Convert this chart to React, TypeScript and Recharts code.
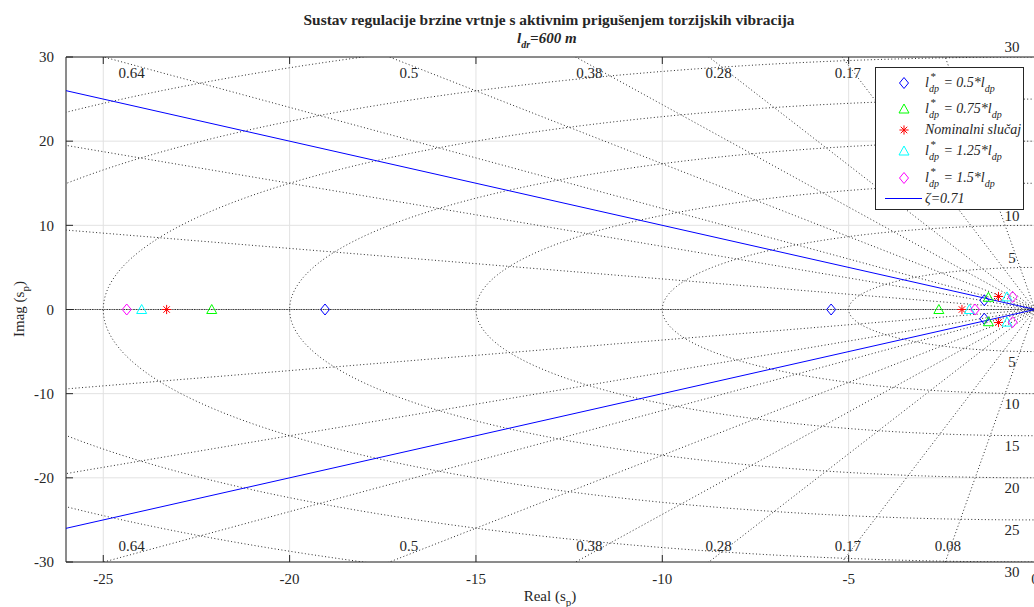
import React from 'react';
import { ComposedChart, XAxis, YAxis, CartesianGrid, Scatter, ReferenceDot } from 'recharts';

const FONT = '"Liberation Serif", "Times New Roman", serif';
const INK = '#262626';
const DOT = '#2a2a2a';

const xTicks = [-25, -20, -15, -10, -5, 0];
const yTicks = [-30, -20, -10, 0, 10, 20, 30];

const polesHalf = [
  { x: -19.05, y: 0 }, { x: -5.47, y: 0 }, { x: -1.36, y: 1.1 }, { x: -1.36, y: -1.1 },
];
const polesThreeQuarter = [
  { x: -22.09, y: 0 }, { x: -2.58, y: 0 }, { x: -1.25, y: 1.45 }, { x: -1.25, y: -1.45 },
];
const polesNominal = [
  { x: -23.3, y: 0 }, { x: -1.96, y: 0 }, { x: -0.98, y: 1.55 }, { x: -0.98, y: -1.55 },
];
const polesOneQuarter = [
  { x: -23.97, y: 0 }, { x: -1.76, y: 0 }, { x: -0.75, y: 1.5 }, { x: -0.75, y: -1.5 },
];
const polesOneHalf = [
  { x: -24.37, y: 0 }, { x: -1.61, y: 0 }, { x: -0.6, y: 1.5 }, { x: -0.6, y: -1.5 },
];
const zetaUpper = [{ x: -26, y: 26 }, { x: 0, y: 0 }];
const zetaLower = [{ x: -26, y: -26 }, { x: 0, y: 0 }];

// s-plane grid
const dampingRatios = [0.08, 0.17, 0.28, 0.38, 0.5, 0.64, 0.8, 0.94, 1];
// labels visible in the reference (the rest sit behind the legend)
const dampingLabelsTop = ['0.17', '0.28', '0.38', '0.5', '0.64'];
const dampingLabelsBottom = ['0.08', '0.17', '0.28', '0.38', '0.5', '0.64'];
const naturalFreqs = [5, 10, 15, 20, 25, 30, 35];
const naturalFreqLabelsTop = [5, 10, 30];
const naturalFreqLabelsBottom = [5, 10, 15, 20, 25, 30];

const RAY = 80;
const dampingLines = dampingRatios.map((z) => {
  const s = Math.sqrt(1 - z * z);
  return [
    { x: -RAY * z, y: RAY * s },
    { x: 0, y: 0 },
    { x: -RAY * z, y: -RAY * s },
  ];
});
const circles = naturalFreqs.map((w) => {
  const pts: { x: number; y: number }[] = [];
  for (let d = 90; d <= 270; d += 1) {
    const t = (d * Math.PI) / 180;
    pts.push({ x: w * Math.cos(t), y: w * Math.sin(t) });
  }
  return pts;
});
const labelX = (lab: string) => {
  const z = parseFloat(lab);
  return (-29.1 * z) / Math.sqrt(1 - z * z);
};

const noShape = () => <g />;
const dottedLine = { stroke: DOT, strokeWidth: 1, strokeDasharray: '1 2.4' };

const diamond = (color: string) => (p: any) => {
  const { cx, cy } = p;
  return (
    <path
      d={`M${cx},${cy - 5.5} L${cx + 4.5},${cy} L${cx},${cy + 5.5} L${cx - 4.5},${cy} Z`}
      fill="none"
      stroke={color}
      strokeWidth={1}
    />
  );
};
const triangle = (color: string) => (p: any) => {
  const { cx, cy } = p;
  return (
    <path
      d={`M${cx},${cy - 5} L${cx + 5},${cy + 4} L${cx - 5},${cy + 4} Z`}
      fill="none"
      stroke={color}
      strokeWidth={1}
    />
  );
};
const asterisk = (color: string) => (p: any) => {
  const { cx, cy } = p;
  const r = 4.6;
  const d = r * 0.7071;
  return (
    <path
      d={`M${cx - r},${cy} L${cx + r},${cy} M${cx},${cy - r} L${cx},${cy + r} M${cx - d},${cy - d} L${cx + d},${cy + d} M${cx - d},${cy + d} L${cx + d},${cy - d}`}
      fill="none"
      stroke={color}
      strokeWidth={1}
    />
  );
};

const BLUE = '#0000ff';
const GREEN = '#00ff00';
const RED = '#ff0000';
const CYAN = '#00ffff';
const MAGENTA = '#ff00ff';

const Ldp = ({ k }: { k: string }) => (
  <span style={{ whiteSpace: 'nowrap' }}>
    l
    <span style={{ position: 'relative', display: 'inline-block', width: 11, height: '1em' }}>
      <span style={{ position: 'absolute', left: 1, top: -7, fontSize: 11 }}>*</span>
      <span style={{ position: 'absolute', left: 0, top: 6, fontSize: 10 }}>dp</span>
    </span>
    {` = ${k}*l`}
    <span style={{ fontSize: 10, position: 'relative', top: 5 }}>dp</span>
  </span>
);

const MarkerIcon = ({ render }: { render: (p: any) => any }) => (
  <svg width={14} height={14} style={{ position: 'absolute', left: 21, top: 3 }}>
    {render({ cx: 7, cy: 7 })}
  </svg>
);

const legendRows = [
  { c: 14.7, icon: diamond(BLUE), label: <Ldp k="0.5" /> },
  { c: 41, icon: triangle(GREEN), label: <Ldp k="0.75" /> },
  { c: 62, icon: asterisk(RED), label: <span>Nominalni slučaj</span> },
  { c: 83, icon: triangle(CYAN), label: <Ldp k="1.25" /> },
  { c: 109.7, icon: diamond(MAGENTA), label: <Ldp k="1.5" /> },
];

const labelText = (txt: string | number, dx: number, dy: number) => (p: any) => (
  <text x={p.cx + dx} y={p.cy + dy} dy="0.35em" textAnchor="middle" fill={INK} fontSize={15} fontFamily={FONT}>
    {txt}
  </text>
);

export default function App() {
  return (
    <div
      style={{
        position: 'fixed',
        left: 0,
        top: 0,
        width: 1034,
        height: 607,
        overflow: 'hidden',
        background: '#fff',
        fontFamily: FONT,
      }}
    >
      <ComposedChart
        width={1100}
        height={607}
        margin={{ top: 27, right: 65, bottom: 0, left: 0 }}
        style={{ position: 'absolute', left: 0, top: 0 }}
      >
        <CartesianGrid stroke="#e2e2e2" strokeWidth={1} />
        <XAxis
          type="number"
          dataKey="x"
          domain={[-26, 0]}
          ticks={xTicks}
          interval={0}
          allowDataOverflow
          height={45}
          tickSize={-7}
          tickMargin={18}
          axisLine={{ stroke: INK }}
          tickLine={{ stroke: INK }}
          tick={{ fill: INK, fontSize: 15, fontFamily: FONT }}
          label={{
            content: () => (
              <text x={550} y={601} textAnchor="middle" fill={INK} fontSize={15} fontFamily={FONT}>
                Real (s<tspan dy={5} fontSize={11}>p</tspan>
                <tspan dy={-5}>)</tspan>
              </text>
            ),
          }}
        />
        <XAxis
          xAxisId="top"
          orientation="top"
          type="number"
          dataKey="x"
          domain={[-26, 0]}
          ticks={xTicks}
          interval={0}
          allowDataOverflow
          height={30}
          tickSize={-7}
          tickFormatter={() => ''}
          axisLine={{ stroke: INK }}
          tickLine={{ stroke: INK }}
        />
        <YAxis
          type="number"
          dataKey="y"
          domain={[-30, 30]}
          ticks={yTicks}
          interval={0}
          allowDataOverflow
          width={66}
          tickSize={-7}
          tickMargin={19}
          axisLine={{ stroke: INK }}
          tickLine={{ stroke: INK }}
          tick={{ fill: INK, fontSize: 15, fontFamily: FONT }}
          label={{
            content: () => (
              <text
                x={24}
                y={309}
                textAnchor="middle"
                fill={INK}
                fontSize={15}
                fontFamily={FONT}
                transform="rotate(-90 24 309)"
              >
                Imag (s<tspan dy={5} fontSize={11}>p</tspan>
                <tspan dy={-5}>)</tspan>
              </text>
            ),
          }}
        />

        {circles.map((pts, i) => (
          <Scatter
            key={'c' + i}
            data={pts}
            line={dottedLine}
            lineType="joint"
            shape={noShape}
            isAnimationActive={false}
            legendType="none"
          />
        ))}
        {dampingLines.map((pts, i) => (
          <Scatter
            key={'d' + i}
            data={pts}
            line={dottedLine}
            lineType="joint"
            shape={noShape}
            isAnimationActive={false}
            legendType="none"
          />
        ))}

        {naturalFreqLabelsTop.map((w) => (
          <ReferenceDot key={'wt' + w} x={0} y={w} r={0} ifOverflow="visible" shape={labelText(w, -23, -10)} />
        ))}
        {naturalFreqLabelsBottom.map((w) => (
          <ReferenceDot key={'wb' + w} x={0} y={-w} r={0} ifOverflow="visible" shape={labelText(w, -23, 10)} />
        ))}
        {dampingLabelsTop.map((lab) => (
          <ReferenceDot key={'zt' + lab} x={labelX(lab)} y={28.1} r={0} ifOverflow="visible" shape={labelText(lab, 0, 0)} />
        ))}
        {dampingLabelsBottom.map((lab) => (
          <ReferenceDot key={'zb' + lab} x={labelX(lab)} y={-28.1} r={0} ifOverflow="visible" shape={labelText(lab, 0, 0)} />
        ))}

        <Scatter data={zetaUpper} line={{ stroke: BLUE, strokeWidth: 1 }} lineType="joint" shape={noShape} isAnimationActive={false} legendType="none" />
        <Scatter data={zetaLower} line={{ stroke: BLUE, strokeWidth: 1 }} lineType="joint" shape={noShape} isAnimationActive={false} legendType="none" />

        <Scatter data={polesHalf} shape={diamond(BLUE)} isAnimationActive={false} />
        <Scatter data={polesThreeQuarter} shape={triangle(GREEN)} isAnimationActive={false} />
        <Scatter data={polesNominal} shape={asterisk(RED)} isAnimationActive={false} />
        <Scatter data={polesOneQuarter} shape={triangle(CYAN)} isAnimationActive={false} />
        <Scatter data={polesOneHalf} shape={diamond(MAGENTA)} isAnimationActive={false} />
      </ComposedChart>

      <svg width={1034} height={56} style={{ position: 'absolute', left: 0, top: 0 }}>
        <text
          x={549}
          y={25}
          textAnchor="middle"
          fill={INK}
          fontSize={15}
          fontWeight="bold"
          fontFamily={FONT}
          textLength={491}
          lengthAdjust="spacingAndGlyphs"
        >
          Sustav regulacije brzine vrtnje s aktivnim prigušenjem torzijskih vibracija
        </text>
        <text x={517} y={43} fill={INK} fontSize={15} fontWeight="bold" fontStyle="italic" fontFamily={FONT}>
          l<tspan dy={5} fontSize={10}>dr</tspan>
          <tspan dy={-5}>=600 m</tspan>
        </text>
      </svg>

      <div
        style={{
          position: 'absolute',
          left: 875,
          top: 67,
          width: 147,
          height: 141,
          background: '#fff',
          border: `1px solid ${INK}`,
          fontFamily: FONT,
          fontStyle: 'italic',
          fontSize: 14,
          color: INK,
        }}
      >
        {legendRows.map((r, i) => (
          <div key={i} style={{ position: 'absolute', left: 0, top: r.c - 10, height: 20, width: 147 }}>
            <MarkerIcon render={r.icon} />
            <div style={{ position: 'absolute', left: 49, top: 0, height: 20, lineHeight: '20px' }}>{r.label}</div>
          </div>
        ))}
        <div style={{ position: 'absolute', left: 0, top: 130.7 - 10, height: 20, width: 147 }}>
          <div style={{ position: 'absolute', left: 9, top: 9.5, width: 37, height: 1, background: BLUE }} />
          <div style={{ position: 'absolute', left: 49, top: 0, height: 20, lineHeight: '20px' }}>ζ=0.71</div>
        </div>
      </div>
    </div>
  );
}
